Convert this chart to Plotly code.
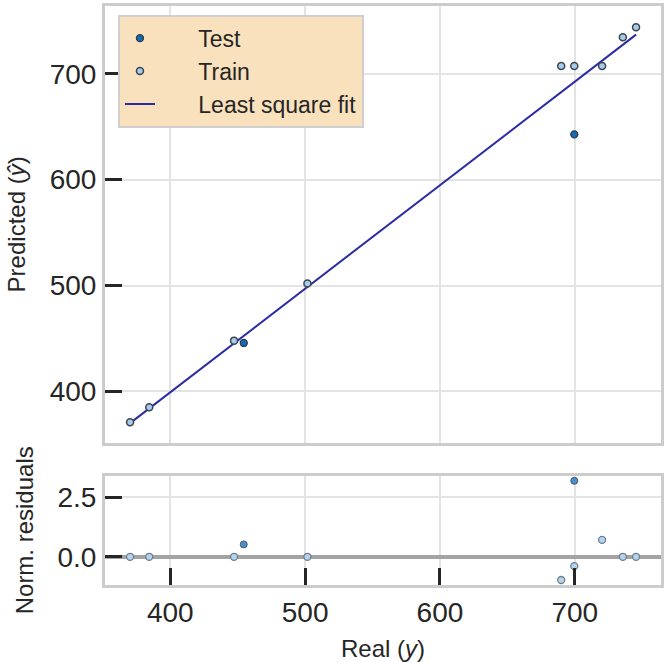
import numpy as np
import plotly.graph_objects as go

# ---- data ----
real_train = [370.2, 384.4, 447.3, 501.7, 689.9, 699.6, 720.2, 735.6, 745.4]
pred_train = [371.0, 385.0, 448.0, 502.0, 707.2, 707.2, 707.2, 734.3, 743.9]
resid_train = [0.0, 0.0, 0.0, 0.0, -0.97, -0.39, 0.71, 0.0, 0.0]
real_test = [454.5, 699.6]
pred_test = [445.8, 642.7]
resid_test = [0.52, 3.18]
main_ticks = [400, 500, 600, 700]
resid_ticks = [0.0, 2.5]

# least-squares fit over all points
all_real = np.array(real_train + real_test)
all_pred = np.array(pred_train + pred_test)
slope, intercept = np.polyfit(all_real, all_pred, 1)
fit_x = np.array([all_real.min(), all_real.max()])
fit_y = slope * fit_x + intercept

TXT = "#262626"
FONT = "Liberation Sans, Arial, sans-serif"
GRID = "#e3e3e3"
FRAME = "#cccccc"
PAD = "\u00a0" * 6

fig = go.Figure()
fig.add_trace(go.Scatter(x=fit_x, y=fit_y, mode="lines", name=PAD + "Least square fit",
                         line=dict(color="#2b2ba3", width=2), legendrank=3,
                         xaxis="x", yaxis="y"))
fig.add_trace(go.Scatter(x=real_test, y=pred_test, mode="markers", name=PAD + "Test",
                         marker=dict(size=7, color="#156bb3", line=dict(color="#2d3a46", width=1.3)),
                         legendrank=1, xaxis="x", yaxis="y"))
fig.add_trace(go.Scatter(x=real_train, y=pred_train, mode="markers", name=PAD + "Train",
                         marker=dict(size=7, color="#a9cbea", line=dict(color="#3c4650", width=1.5)),
                         legendrank=2, xaxis="x", yaxis="y"))
fig.add_trace(go.Scatter(x=real_test, y=resid_test, mode="markers", showlegend=False,
                         marker=dict(size=7, color="#4a8fc9", line=dict(color="#4a5a6a", width=1)),
                         xaxis="x2", yaxis="y2"))
fig.add_trace(go.Scatter(x=real_train, y=resid_train, mode="markers", showlegend=False,
                         marker=dict(size=7, color="#b6d3ed", line=dict(color="#6f7f8e", width=1.3)),
                         xaxis="x2", yaxis="y2"))

rng = [351.6, 763.9]
common = dict(showline=True, linecolor=FRAME, linewidth=3, mirror=True,
              gridcolor=GRID, gridwidth=2, ticklen=17, tickwidth=2.5,
              tickcolor=TXT, tickfont=dict(size=28, color=TXT, family=FONT))
TFONT = dict(size=24, color=TXT, family=FONT)

fig.update_layout(
    width=667, height=662,
    margin=dict(l=105, r=5, t=3, b=77),
    paper_bgcolor="white", plot_bgcolor="white",
    font=dict(family=FONT, color=TXT),
    xaxis=dict(domain=[0, 1], range=rng, tickvals=main_ticks, showticklabels=False,
               anchor="y", ticks="", zeroline=False, **common),
    yaxis=dict(domain=[0.2457, 1], range=rng, tickvals=main_ticks, anchor="x",
               ticks="inside", zeroline=False,
               title=dict(text="Predicted (<i>ŷ</i>)", font=TFONT, standoff=18),
               **common),
    xaxis2=dict(domain=[0, 1], range=rng, tickvals=main_ticks, anchor="y2",
                ticks="inside", zeroline=False,
                title=dict(text="Real (<i>y</i>)", font=TFONT, standoff=14),
                **common),
    yaxis2=dict(domain=[0, 0.189], range=[-1.18, 3.4], tickvals=resid_ticks,
                tickformat=".1f", anchor="x2", ticks="inside",
                title=dict(text="Norm. residuals", font=TFONT, standoff=18),
                zeroline=True, zerolinecolor="#a3a3a3", zerolinewidth=4,
                **common),
    legend=dict(x=0.0233, y=0.985, xanchor="left", yanchor="top",
                bgcolor="#f8e1bc", bordercolor="#cfcfcf", borderwidth=2,
                font=dict(size=23, color=TXT, family=FONT),
                itemsizing="trace"),
)

fig.write_html("out.html")
